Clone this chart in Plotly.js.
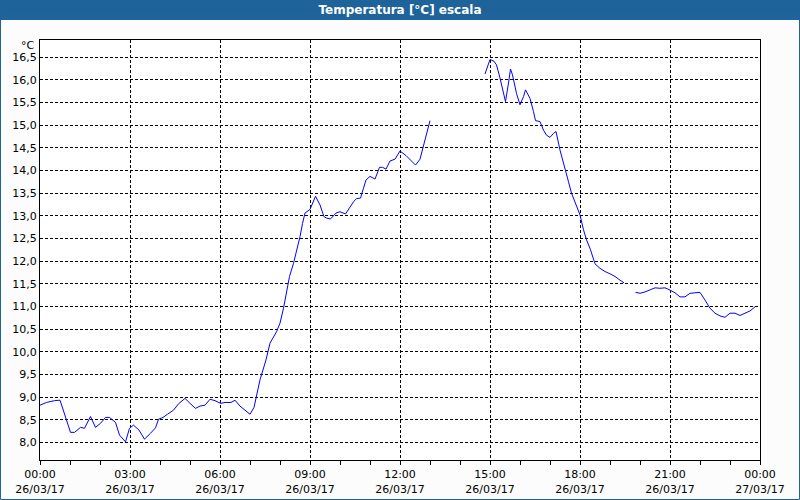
<!DOCTYPE html>
<html>
<head>
<meta charset="utf-8">
<script src="https://cdn.plot.ly/plotly-3.0.1.min.js"></script>
<style>html,body{margin:0;padding:0;background:#fff;}#chart{width:800px;height:500px;}</style>
</head>
<body>
<div id="chart"></div>
<script>
const times = [
"2017-03-26 00:00","2017-03-26 00:13","2017-03-26 00:29","2017-03-26 00:40","2017-03-26 01:01","2017-03-26 01:09",
"2017-03-26 01:21","2017-03-26 01:29","2017-03-26 01:41","2017-03-26 01:51","2017-03-26 02:01","2017-03-26 02:11",
"2017-03-26 02:19","2017-03-26 02:31","2017-03-26 02:39","2017-03-26 02:51","2017-03-26 02:59","2017-03-26 03:07",
"2017-03-26 03:18","2017-03-26 03:29","2017-03-26 03:41","2017-03-26 03:51","2017-03-26 03:57","2017-03-26 04:06",
"2017-03-26 04:15","2017-03-26 04:27","2017-03-26 04:37","2017-03-26 04:50","2017-03-26 05:00","2017-03-26 05:11",
"2017-03-26 05:20","2017-03-26 05:30","2017-03-26 05:40","2017-03-26 05:50","2017-03-26 06:01","2017-03-26 06:10",
"2017-03-26 06:22","2017-03-26 06:30","2017-03-26 06:40","2017-03-26 06:50","2017-03-26 07:00","2017-03-26 07:08",
"2017-03-26 07:13","2017-03-26 07:20","2017-03-26 07:32","2017-03-26 07:40","2017-03-26 07:53","2017-03-26 08:00",
"2017-03-26 08:07","2017-03-26 08:13","2017-03-26 08:19","2017-03-26 08:27","2017-03-26 08:33","2017-03-26 08:40",
"2017-03-26 08:45","2017-03-26 08:50","2017-03-26 09:00","2017-03-26 09:05","2017-03-26 09:11","2017-03-26 09:20",
"2017-03-26 09:28","2017-03-26 09:33","2017-03-26 09:41","2017-03-26 09:52","2017-03-26 10:00","2017-03-26 10:11",
"2017-03-26 10:20","2017-03-26 10:27","2017-03-26 10:33","2017-03-26 10:41","2017-03-26 10:47","2017-03-26 10:52",
"2017-03-26 11:00","2017-03-26 11:10","2017-03-26 11:19","2017-03-26 11:25","2017-03-26 11:32","2017-03-26 11:40",
"2017-03-26 11:50","2017-03-26 12:00","2017-03-26 12:12","2017-03-26 12:22","2017-03-26 12:31","2017-03-26 12:40",
"2017-03-26 12:45","2017-03-26 12:51","2017-03-26 12:57","2017-03-26 13:00",
"2017-03-26 14:00",
"2017-03-26 14:50","2017-03-26 15:00","2017-03-26 15:08","2017-03-26 15:13","2017-03-26 15:20","2017-03-26 15:25",
"2017-03-26 15:31","2017-03-26 15:37","2017-03-26 15:41","2017-03-26 15:45","2017-03-26 15:53","2017-03-26 16:00",
"2017-03-26 16:07","2017-03-26 16:11","2017-03-26 16:20","2017-03-26 16:27","2017-03-26 16:31","2017-03-26 16:40",
"2017-03-26 16:47","2017-03-26 16:53","2017-03-26 17:00","2017-03-26 17:07","2017-03-26 17:12","2017-03-26 17:20",
"2017-03-26 17:29","2017-03-26 17:37","2017-03-26 17:43","2017-03-26 17:52","2017-03-26 18:00","2017-03-26 18:07",
"2017-03-26 18:13","2017-03-26 18:21","2017-03-26 18:30","2017-03-26 18:40","2017-03-26 18:50","2017-03-26 19:00",
"2017-03-26 19:10","2017-03-26 19:20","2017-03-26 19:28",
"2017-03-26 19:40",
"2017-03-26 19:51","2017-03-26 20:00","2017-03-26 20:10","2017-03-26 20:20","2017-03-26 20:30","2017-03-26 20:40",
"2017-03-26 20:50","2017-03-26 21:00","2017-03-26 21:10","2017-03-26 21:20","2017-03-26 21:30","2017-03-26 21:40",
"2017-03-26 21:50","2017-03-26 22:00","2017-03-26 22:10","2017-03-26 22:20","2017-03-26 22:30","2017-03-26 22:40",
"2017-03-26 22:50","2017-03-26 23:00","2017-03-26 23:10","2017-03-26 23:20","2017-03-26 23:30","2017-03-26 23:40",
"2017-03-26 23:50"
];
const temps = [
8.82,8.88,8.92,8.93,8.22,8.22,
8.33,8.31,8.57,8.33,8.42,8.55,
8.55,8.44,8.16,8.01,8.31,8.38,
8.27,8.07,8.20,8.32,8.51,8.55,
8.62,8.71,8.85,8.97,8.86,8.75,
8.80,8.82,8.95,8.92,8.86,8.88,
8.88,8.93,8.80,8.70,8.62,8.77,
9.01,9.38,9.82,10.19,10.44,10.63,
10.96,11.29,11.66,11.95,12.21,12.54,
12.83,13.06,13.14,13.27,13.43,13.24,
12.98,12.95,12.93,13.06,13.09,13.04,
13.20,13.31,13.38,13.39,13.61,13.79,
13.87,13.81,14.07,14.07,14.03,14.21,
14.25,14.43,14.33,14.23,14.12,14.25,
14.45,14.71,14.93,15.10,
null,
16.13,16.45,16.41,16.33,16.04,15.79,
15.52,15.93,16.24,16.11,15.70,15.45,
15.63,15.78,15.59,15.30,15.10,15.08,
14.89,14.78,14.73,14.82,14.86,14.45,
14.05,13.75,13.50,13.24,13.02,12.69,
12.47,12.25,11.94,11.84,11.77,11.72,
11.66,11.58,11.52,
null,
11.31,11.29,11.32,11.36,11.41,11.40,
11.41,11.36,11.30,11.21,11.21,11.29,
11.30,11.31,11.14,10.96,10.85,10.79,
10.76,10.85,10.85,10.80,10.85,10.90,
10.99
];
const chartTitle = "Temperatura [°C] escala";
const unitLabel = "°C";
const xRange = ["2017-03-26 00:00","2017-03-27 00:00"];
const yRange = [7.61, 16.88];

const FONT = "DejaVu Sans, Verdana, sans-serif";
const trace = {
  x: times, y: temps, type: "scatter", mode: "lines",
  line: {color: "#0000ff", width: 1}, connectgaps: false, hoverinfo: "skip"
};
const pw = 720, ph = 420, ml = 40, mt = 40;
const layout = {
  width: 800, height: 500,
  margin: {l: 40, r: 40, t: 40, b: 40, pad: 0},
  paper_bgcolor: "#fbfcfb", plot_bgcolor: "#ffffff",
  separators: ",.",
  showlegend: false,
  font: {family: FONT, size: 11, color: "#000"},
  title: {text: "<b>" + chartTitle + "</b>", font: {family: FONT, size: 12, color: "#ffffff"},
          x: 0.5, xanchor: "center", y: 0.98, yanchor: "middle", yref: "container"},
  xaxis: {
    type: "date", range: xRange,
    tick0: "2017-03-26 00:00", dtick: 3 * 3600000,
    tickformat: "%H:%M<br>%d/%m/%y",
    ticks: "outside", ticklen: 4, tickcolor: "#000", tickwidth: 1,
    showgrid: true, gridcolor: "#000", gridwidth: 1, griddash: "3px,2px",
    minor: {dtick: 3600000, ticks: "outside", ticklen: 4, tickcolor: "#000", showgrid: false},
    showline: true, linecolor: "#000", linewidth: 1, mirror: true,
    zeroline: false, tickfont: {family: FONT, size: 11, color: "#000"}, fixedrange: true
  },
  yaxis: {
    range: yRange, tick0: 8, dtick: 0.5, tickformat: ".1f",
    ticks: "", showgrid: true, gridcolor: "#000", gridwidth: 1, griddash: "3px,2px",
    showline: true, linecolor: "#000", linewidth: 1, mirror: true,
    zeroline: false, tickfont: {family: FONT, size: 11, color: "#000"}, fixedrange: true
  },
  shapes: [
    {type: "rect", xref: "paper", yref: "paper", layer: "below",
     x0: -ml / pw, x1: 1 + ml / pw, y0: 1 + (mt - 20) / ph, y1: 1 + mt / ph,
     fillcolor: "#1e6399", line: {width: 0}},
    {type: "rect", xref: "paper", yref: "paper", layer: "above",
     x0: (0.5 - ml) / pw, x1: (799.5 - ml) / pw, y0: 1 - (499.5 - mt) / ph, y1: 1 + (mt - 10) / ph,
     fillcolor: "rgba(0,0,0,0)", line: {width: 1, color: "#1e6399"}}
  ],
  annotations: [
    {text: unitLabel, xref: "paper", yref: "paper", x: 0, y: 1, xanchor: "right", yanchor: "middle",
     xshift: -3, yshift: -5, showarrow: false, font: {family: FONT, size: 11, color: "#000"}}
  ]
};
Plotly.newPlot("chart", [trace], layout, {staticPlot: true, displayModeBar: false});
</script>
</body>
</html>
